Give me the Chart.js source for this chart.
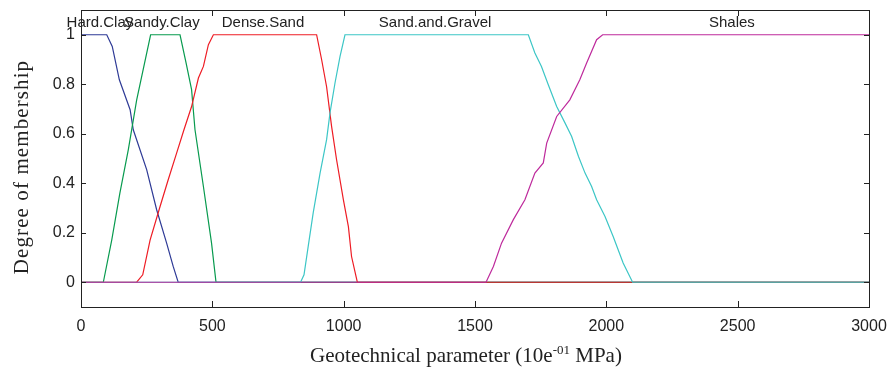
<!DOCTYPE html>
<html>
<head>
<meta charset="utf-8">
<script src="https://cdn.jsdelivr.net/npm/chart.js@4"></script>
<style>
  html, body { margin: 0; padding: 0; background: #fff; }
  #wrap { width: 891px; height: 372px; }
</style>
</head>
<body>
<div id="wrap"><canvas id="chart"></canvas></div>
<script>
// membership curves
const hardClayX = [0, 98, 119, 146, 187, 199, 250, 288, 326, 351, 370, 3000];
const hardClayY = [1, 1, 0.953, 0.818, 0.697, 0.616, 0.455, 0.293, 0.158, 0.064, 0, 0];

const sandyClayX = [0, 85, 117, 148, 180, 212, 265, 377, 400, 421, 434, 466, 497, 514, 3000];
const sandyClayY = [0, 0, 0.17, 0.36, 0.535, 0.737, 1, 1, 0.886, 0.778, 0.616, 0.387, 0.158, 0, 0];

const denseSandX = [0, 212, 235, 263, 301, 332, 364, 392, 421, 447, 466, 485, 504, 897, 916, 935, 954, 973, 999, 1018, 1030, 1052, 3000];
const denseSandY = [0, 0, 0.03, 0.17, 0.306, 0.414, 0.522, 0.616, 0.71, 0.825, 0.872, 0.96, 1, 1, 0.9, 0.79, 0.63, 0.495, 0.333, 0.225, 0.104, 0, 0];

const gravelX = [0, 836, 849, 865, 884, 910, 935, 948, 967, 986, 1005, 1703, 1728, 1753, 1779, 1811, 1843, 1868, 1894, 1919, 1944, 1963, 1995, 2026, 2064, 2100, 3000];
const gravelY = [0, 0, 0.03, 0.145, 0.28, 0.44, 0.576, 0.684, 0.805, 0.912, 1, 1, 0.926, 0.872, 0.798, 0.71, 0.643, 0.589, 0.508, 0.441, 0.387, 0.333, 0.266, 0.185, 0.078, 0, 0];

const shalesX = [0, 1542, 1570, 1601, 1646, 1690, 1728, 1760, 1773, 1811, 1861, 1899, 1925, 1963, 1986, 3000];
const shalesY = [0, 0, 0.064, 0.158, 0.253, 0.333, 0.441, 0.482, 0.562, 0.67, 0.737, 0.818, 0.886, 0.98, 1, 1];

const classNames = ['Hard.Clay', 'Sandy.Clay', 'Dense.Sand', 'Sand.and.Gravel', 'Shales'];
const classLabelAt = [72, 308, 693, 1348, 2478];

const xTicks = [0, 500, 1000, 1500, 2000, 2500, 3000];
const yTicks = [0, 0.2, 0.4, 0.6, 0.8, 1];

const toPoints = (xs, ys) => xs.map((x, i) => ({ x, y: ys[i] }));

const sansFont = '"Liberation Sans", Arial, sans-serif';
const serifFont = '"Liberation Serif", "DejaVu Serif", serif';

// later classes are drawn on top (lower order = on top)
const datasets = [
    { label: 'Hard.Clay', data: toPoints(hardClayX, hardClayY), borderColor: '#2e3a96', order: 4 },
    { label: 'Sandy.Clay', data: toPoints(sandyClayX, sandyClayY), borderColor: '#079a4e', order: 3 },
    { label: 'Dense.Sand', data: toPoints(denseSandX, denseSandY), borderColor: '#ee1c24', order: 2 },
    { label: 'Sand.and.Gravel', data: toPoints(gravelX, gravelY), borderColor: '#3cc6c6', order: 1 },
    { label: 'Shales', data: toPoints(shalesX, shalesY), borderColor: '#be2a9c', order: 0 }
].map(ds => ({ ...ds, borderWidth: 1.2, pointRadius: 0, tension: 0, fill: false }));

// frame, inward ticks, class names and axis titles
const decorations = {
    id: 'decorations',
    afterDraw(chart) {
        const { ctx, chartArea: a, scales } = chart;
        ctx.save();
        ctx.strokeStyle = '#222';
        ctx.lineWidth = 1;
        ctx.strokeRect(a.left + 0.5, a.top + 0.5, a.right - a.left, a.bottom - a.top);

        ctx.beginPath();
        xTicks.forEach(v => {
            const px = Math.round(scales.x.getPixelForValue(v)) + 0.5;
            ctx.moveTo(px, a.bottom);
            ctx.lineTo(px, a.bottom - 6);
            ctx.moveTo(px, a.top);
            ctx.lineTo(px, a.top + 6);
        });
        yTicks.forEach(v => {
            const py = Math.round(scales.y.getPixelForValue(v)) + 0.5;
            ctx.moveTo(a.left, py);
            ctx.lineTo(a.left + 5, py);
            ctx.moveTo(a.right, py);
            ctx.lineTo(a.right - 5, py);
        });
        ctx.stroke();

        ctx.fillStyle = '#222';
        ctx.font = `15px ${sansFont}`;
        ctx.textAlign = 'center';
        ctx.textBaseline = 'alphabetic';
        classNames.forEach((name, i) => {
            ctx.fillText(name, scales.x.getPixelForValue(classLabelAt[i]), 27);
        });

        // y title
        ctx.font = `21px ${serifFont}`;
        ctx.save();
        ctx.letterSpacing = '1.1px';
        ctx.translate(28, 167);
        ctx.rotate(-Math.PI / 2);
        ctx.fillText('Degree of membership', 0, 0);
        ctx.restore();

        // x title with superscript
        const parts = [
            { t: 'Geotechnical parameter (10e', f: `21px ${serifFont}`, dy: 0 },
            { t: '-01', f: `13px ${serifFont}`, dy: -8 },
            { t: ' MPa)', f: `21px ${serifFont}`, dy: 0 }
        ];
        let total = 0;
        parts.forEach(p => { ctx.font = p.f; p.w = ctx.measureText(p.t).width; total += p.w; });
        let x = 466 - total / 2;
        ctx.textAlign = 'left';
        parts.forEach(p => {
            ctx.font = p.f;
            ctx.fillText(p.t, x, 362 + p.dy);
            x += p.w;
        });
        ctx.restore();
    }
};

new Chart(document.getElementById('chart'), {
    type: 'line',
    data: { datasets },
    plugins: [decorations],
    options: {
        responsive: true,
        maintainAspectRatio: false,
        animation: false,
        layout: { padding: { top: 10, right: 22, left: 0, bottom: 0 } },
        plugins: { legend: { display: false }, tooltip: { enabled: false } },
        scales: {
            x: {
                type: 'linear',
                min: 0,
                max: 3000,
                afterBuildTicks: (s) => { s.ticks = xTicks.map(v => ({ value: v })); },
                afterFit: (s) => { s.height = 65; s.paddingLeft = 0; s.paddingRight = 0; },
                grid: { display: false, drawTicks: false },
                border: { display: false },
                ticks: { color: '#222', padding: 10, font: { family: sansFont, size: 16 }, callback: v => String(v) }
            },
            y: {
                type: 'linear',
                min: -0.1,
                max: 1.1,
                afterBuildTicks: (s) => { s.ticks = yTicks.map(v => ({ value: v })); },
                afterFit: (s) => { s.width = 81; s.paddingTop = 0; s.paddingBottom = 0; },
                grid: { display: false, drawTicks: false },
                border: { display: false },
                ticks: { color: '#222', padding: 6, font: { family: sansFont, size: 16 }, callback: v => String(Math.round(v * 10) / 10) }
            }
        }
    }
});
</script>
</body>
</html>
